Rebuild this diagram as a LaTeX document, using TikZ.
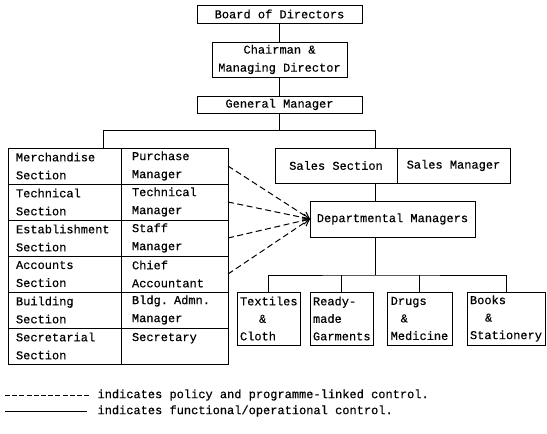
\documentclass[tikz,border=0pt]{standalone}
\usepackage{fontspec}
\setmonofont{Liberation Mono}[FakeBold=0.35]
\usetikzlibrary{arrows.meta,positioning}

\begin{document}
\begin{tikzpicture}[x=1pt,y=-1pt,line width=1pt,
  bx/.style={draw,outer sep=0pt,inner sep=0pt,align=center,font=\ttfamily\fontsize{12}{18}\selectfont},
  cell/.style={draw,outer sep=0pt,anchor=north west,minimum height=36pt,inner ysep=0pt,align=left,font=\ttfamily\fontsize{12}{18}\selectfont},
  sec/.style={cell,inner xsep=8pt,text width=97pt},
  mgr/.style={cell,inner xsep=11pt,text width=85pt},
  unit/.style={draw,outer sep=0pt,anchor=north west,minimum height=53pt,inner xsep=3pt,inner ysep=0pt,align=left,font=\ttfamily\fontsize{12}{17.5}\selectfont},
  leg/.style={anchor=west,inner sep=0pt,font=\ttfamily\fontsize{12}{18}\selectfont},
  dsh/.style={dash pattern=on 6pt off 3.5pt},
  ldsh/.style={dash pattern=on 5pt off 2.2pt},
  ar/.style={-{Straight Barb[length=2.2mm,width=2.6mm]}}]
 \useasboundingbox (0,0) rectangle (547,434);
 % top of the chart
 \node[bx,minimum width=165pt,minimum height=18pt] (board) at (279.5,14) {Board of Directors};
 \node[bx,minimum width=135pt,minimum height=35pt] (chair) at (279.5,59.5) {Chairman \&\\Managing Director};
 \node[bx,minimum width=165pt,minimum height=17pt] (gm) at (279.5,104.5) {General Manager};
 % sections and their managers
 \foreach \i/\s/\m in {1/Merchandise\\Section/Purchase\\Manager,
   2/Technical\\Section/Technical\\Manager,
   3/Establishment\\Section/Staff\\Manager,
   4/Accounts\\Section/Chief\\Accountant,
   5/Building\\Section/Bldg. Admn.\\Manager,
   6/Secretarial\\Section/Secretary\\\mbox{}}{
   \pgfmathsetmacro\ry{112+36*\i}
   \node[sec] (sec\i) at (8,\ry) {\s};
   \node[mgr] (mgr\i) at (121,\ry) {\m};
 }
 \node[bx,anchor=north west,minimum width=122pt,minimum height=35pt] (salesA) at (275,148) {Sales Section};
 \node[bx,anchor=north west,minimum width=113pt,minimum height=35pt] (salesB) at (salesA.north east) {Sales Manager};
 \node[bx,minimum width=165pt,minimum height=36pt] (dept) at (392.5,219) {Departmental Managers};
 % departments
 \node[unit,minimum width=63pt] (tex) at (237,292) {Textiles\\\hspace*{19pt}\&\\Cloth};
 \node[unit,minimum width=62pt] (ready) at (310,292) {Ready-\\made\\Garments};
 \node[unit,minimum width=65pt] (drugs) at (387,292) {Drugs\\\hspace*{10pt}\&\\Medicine};
 \node[unit,minimum width=78pt] (books) at (467,292) {Books\\\hspace*{15pt}\&\\Stationery};
 % lines of control
 \coordinate (jl) at (103,130);
 \coordinate (jr) at (375,130);
 \coordinate (jb) at (375,275);
 \draw (board) -- (chair);
 \draw (chair) -- (gm);
 \draw (gm.south) -- (gm.south |- jl);
 \draw (jl |- sec1.north) -- (jl) -- (jr) -- (jr |- salesA.north);
 \draw (jr |- salesA.south) -- (jr |- dept.north);
 \draw (jr |- dept.south) -- (jb);
 \draw (tex.north) |- (jb) -| (books.north);
 \draw (ready.north) -- (ready.north |- jb);
 \draw (drugs.north) -- (drugs.north |- jb);
 \foreach \i in {1,...,4}
   \draw[dsh,ar] (mgr\i.east) -- (dept.west);
 % key
 \node[leg] (leg1) at (97,395) {indicates policy and programme-linked control.};
 \node[leg] (leg2) at (97,411) {indicates functional/operational control.};
 \coordinate (d0) at (5,395);
 \coordinate (s0) at (5,411);
 \draw[ldsh] (d0) -- ([xshift=-7pt]leg1.west);
 \draw (s0) -- ([xshift=-10pt]leg2.west);
\end{tikzpicture}
\end{document}
